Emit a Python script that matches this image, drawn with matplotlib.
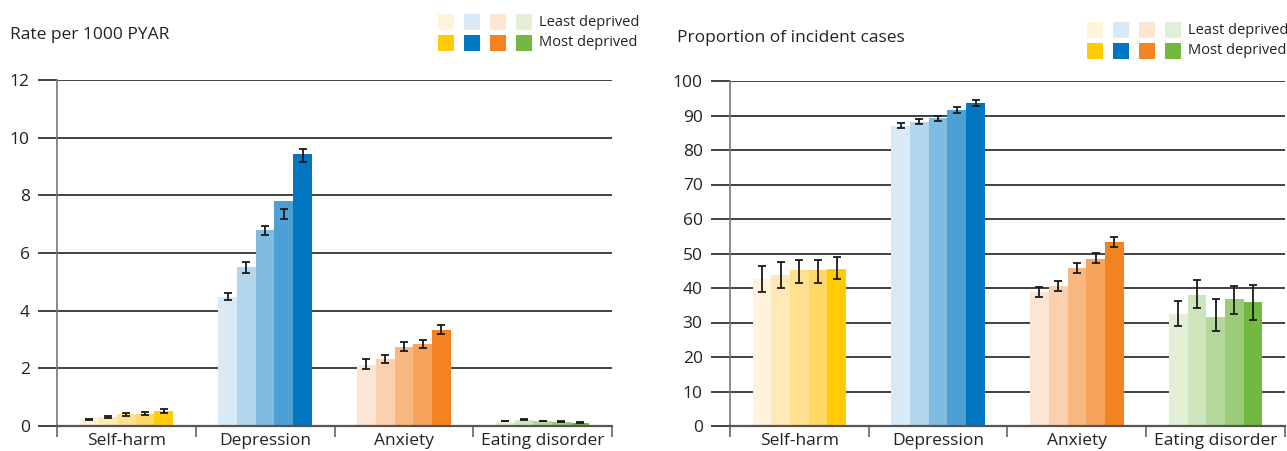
import numpy as np
import matplotlib
matplotlib.use("Agg")
import matplotlib.pyplot as plt
from matplotlib.patches import Rectangle

plt.rcParams['font.family'] = ['Open Sans', 'DejaVu Sans']

W, H = 1287, 451

categories = ['Self-harm', 'Depression', 'Anxiety', 'Eating disorder']

# quintiles, least -> most deprived
palettes = [
    ['#FFF3DB', '#FFE9B5', '#FFE08F', '#FFD766', '#FFCB05'],
    ['#D9EAF6', '#B3D6EC', '#80BBE0', '#4DA0D5', '#0077C0'],
    ['#FDE5D3', '#FBD0AE', '#F9B882', '#F7A35B', '#F38221'],
    ['#E2EED6', '#CDE4BD', '#B4D89A', '#9BCB77', '#73B941'],
]

# rate per 1000 PYAR
rate = [
    [0.29, 0.30, 0.40, 0.40, 0.52],
    [4.48, 5.50, 6.80, 7.80, 9.43],
    [2.13, 2.33, 2.75, 2.86, 3.34],
    [0.15, 0.20, 0.17, 0.15, 0.10],
]
rate_lo = [
    [0.22, 0.27, 0.36, 0.37, 0.45],
    [4.37, 5.32, 6.62, 7.18, 9.15],
    [1.98, 2.20, 2.60, 2.70, 3.20],
    [0.17, 0.21, 0.16, 0.15, 0.12],
]
rate_hi = [
    [0.26, 0.35, 0.45, 0.48, 0.58],
    [4.62, 5.68, 6.95, 7.53, 9.60],
    [2.32, 2.46, 2.90, 2.98, 3.50],
    [0.19, 0.23, 0.18, 0.17, 0.14],
]

# proportion of incident cases
prop = [
    [42.7, 43.7, 45.1, 45.1, 45.6],
    [87.0, 88.1, 89.4, 91.6, 93.6],
    [38.9, 40.7, 45.9, 48.5, 53.2],
    [32.6, 38.1, 31.7, 36.9, 35.8],
]
prop_lo = [
    [38.7, 40.0, 41.5, 41.4, 42.7],
    [86.3, 87.5, 88.4, 90.8, 92.8],
    [37.5, 39.2, 44.4, 47.2, 51.9],
    [29.0, 34.2, 27.6, 32.6, 30.7],
]
prop_hi = [
    [46.3, 47.4, 48.1, 48.2, 49.0],
    [87.7, 88.9, 90.0, 92.4, 94.4],
    [40.3, 41.9, 47.3, 50.1, 54.7],
    [36.2, 42.4, 36.7, 40.6, 40.8],
]

PX = 72 / 100  # points per pixel


def panel(rect, vals, lo, hi, ymax, ystep, title, title_xy, leg_x, leg_y):
    ax = fig.add_axes([rect[0] / W, 1 - rect[3] / H, (rect[2] - rect[0]) / W,
                       (rect[3] - rect[1]) / H])
    bw = 0.135
    for i in range(len(categories)):
        for j in range(5):
            x = i + (j - 2) * bw
            ax.bar(x, vals[i][j], width=bw, color=palettes[i][j], lw=0, zorder=2)
            mid = (lo[i][j] + hi[i][j]) / 2
            half = (hi[i][j] - lo[i][j]) / 2
            ax.errorbar(x, mid, yerr=half, fmt='none', ecolor='#1a1a1a',
                        elinewidth=1.3, capsize=2.8, capthick=1.3, zorder=3)

    ax.set_xlim(-0.5, len(categories) - 0.5)
    ax.set_ylim(0, ymax)
    ax.set_yticks(np.arange(0, ymax + 0.01, ystep))
    ax.grid(axis='y', color='#222222', lw=1.2, zorder=0)
    ax.set_axisbelow(True)
    ax.tick_params(axis='y', length=19 * PX, width=1.2, color='#222222',
                   pad=6, labelsize=12.5, labelcolor='#222222')

    ax.set_xticks(range(len(categories)))
    ax.set_xticklabels(categories)
    ax.set_xticks(np.arange(-0.5, len(categories)), minor=True)
    ax.tick_params(axis='x', which='major', length=0, pad=5, labelsize=12.5,
                   labelcolor='#222222')
    ax.tick_params(axis='x', which='minor', length=11 * PX, width=1.2,
                   color='#666666')

    for s in ['top', 'right']:
        ax.spines[s].set_visible(False)
    ax.spines['left'].set_color('#777777')
    ax.spines['left'].set_linewidth(1.2)
    ax.spines['bottom'].set_color('#555555')
    ax.spines['bottom'].set_linewidth(1.6)
    ax.spines['bottom'].set_zorder(4)

    fig.text(title_xy[0] / W, 1 - title_xy[1] / H, title, fontsize=12.5,
             color='#222222', va='center', ha='left')

    # legend: lightest and darkest shade per condition
    for k in range(4):
        for r, shade in enumerate([0, 4]):
            y0 = leg_y + r * 21
            fig.patches.append(Rectangle(((leg_x + k * 26) / W, 1 - (y0 + 16) / H),
                                         16 / W, 16 / H, transform=fig.transFigure,
                                         color=palettes[k][shade], lw=0))
    for r, lab in enumerate(['Least deprived', 'Most deprived']):
        fig.text((leg_x + 4 * 26 - 3) / W, 1 - (leg_y + r * 21 + 8) / H, lab,
                 fontsize=10.5, color='#222222', va='center', ha='left')
    return ax


fig = plt.figure(figsize=(W / 100, H / 100), dpi=100)

panel((57, 80, 612, 426), rate, rate_lo, rate_hi, 12, 2,
      'Rate per 1000 PYAR', (10, 35), 438, 14)
panel((730, 81, 1285, 426), prop, prop_lo, prop_hi, 100, 10,
      'Proportion of incident cases', (677, 38), 1087, 22)

fig.savefig('out.png', dpi=100)
